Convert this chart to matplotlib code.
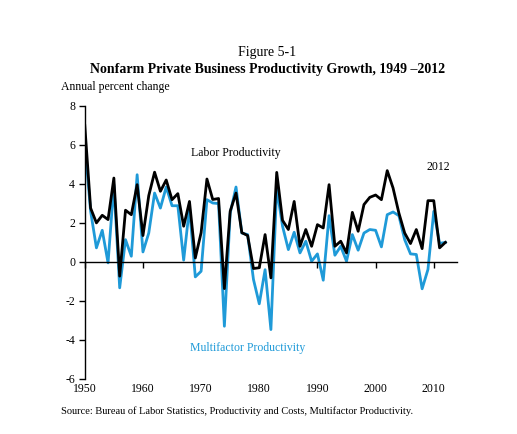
import numpy as np
import matplotlib.pyplot as plt

plt.rcParams['font.family'] = ['Liberation Serif', 'DejaVu Serif']
plt.rcParams['axes.unicode_minus'] = False

# Annual percent change, nonfarm private business
years = np.arange(1950, 2013)
labor = [7.0, 2.76, 2.0, 2.39, 2.17, 4.3, -0.73, 2.65, 2.42, 3.96,
         1.35, 3.4, 4.6, 3.62, 4.2, 3.19, 3.5, 1.83, 3.1, 0.2,
         1.5, 4.25, 3.2, 3.25, -1.37, 2.6, 3.53, 1.5, 1.35, -0.34,
         -0.3, 1.4, -0.82, 4.59, 2.13, 1.66, 3.1, 0.8, 1.66, 0.8,
         1.91, 1.74, 3.96, 0.8, 1.06, 0.46, 2.54, 1.57, 2.94, 3.31,
         3.43, 3.19, 4.68, 3.79, 2.51, 1.48, 0.94, 1.66, 0.68, 3.14,
         3.14, 0.72, 1.0]
multifactor = [6.1, 2.6, 0.72, 1.62, -0.05, 3.96, -1.33, 1.14, 0.29, 4.47,
               0.51, 1.48, 3.53, 2.76, 3.84, 2.88, 2.88, 0.09, 2.8, -0.77,
               -0.48, 3.19, 3.02, 2.99, -3.3, 2.5, 3.84, 1.48, 1.4, -0.9,
               -2.15, -0.4, -3.47, 3.79, 1.83, 0.63, 1.52, 0.46, 1.06, 0.03,
               0.41, -0.94, 2.37, 0.34, 0.8, 0.03, 1.4, 0.6, 1.48, 1.66,
               1.62, 0.77, 2.42, 2.56, 2.37, 1.14, 0.41, 0.38, -1.38, -0.39,
               2.59, 0.95, 1.0]
xticks = [1950, 1960, 1970, 1980, 1990, 2000, 2010]
yticks = [-6, -4, -2, 0, 2, 4, 6, 8]

blue = '#1f9ad8'

fig = plt.figure(figsize=(5.17, 4.34), dpi=100)
ax = fig.add_axes([0.164, 0.127, 0.72, 0.629])

ax.plot(years, multifactor, color=blue, lw=2.0)
ax.plot(years, labor, color='black', lw=2.0)

ax.set_xlim(1950, 2014)
ax.set_ylim(-6, 8)

# zero line with downward ticks, labels on a secondary axis at the bottom
ax.spines['top'].set_visible(False)
ax.spines['right'].set_visible(False)
ax.spines['bottom'].set_position(('data', 0))
ax.spines['bottom'].set_linewidth(1.0)
ax.spines['left'].set_linewidth(1.0)
ax.set_xticks(xticks)
ax.tick_params(axis='x', direction='out', length=4, width=1, labelbottom=False)
ax.set_yticks(yticks)
ax.tick_params(axis='y', direction='out', length=4, width=1, labelsize=8.5, pad=3)

sec = ax.secondary_xaxis('bottom')
sec.set_xticks(xticks)
sec.tick_params(length=0, labelsize=8.5, pad=3)
sec.spines['bottom'].set_visible(False)

ax.text(1976.0, 5.6, 'Labor Productivity', fontsize=8.5, color='black', ha='center', va='center')
ax.text(2010.7, 4.87, '2012', fontsize=8.5, color='black', ha='center', va='center')
ax.text(1968.1, -4.4, 'Multifactor Productivity', fontsize=8.5, color=blue, ha='left', va='center')

fig.text(0.517, 0.878, 'Figure 5-1', fontsize=10, ha='center', va='center')
fig.text(0.517, 0.839, 'Nonfarm Private Business Productivity Growth, 1949 \u20132012',
         fontsize=10, fontweight='bold', ha='center', va='center')
fig.text(0.118, 0.799, 'Annual percent change', fontsize=8.5, ha='left', va='center')
fig.text(0.118, 0.053, 'Source: Bureau of Labor Statistics, Productivity and Costs, Multifactor Productivity.',
         fontsize=7.5, ha='left', va='center')

fig.savefig('out.png', dpi=100)
